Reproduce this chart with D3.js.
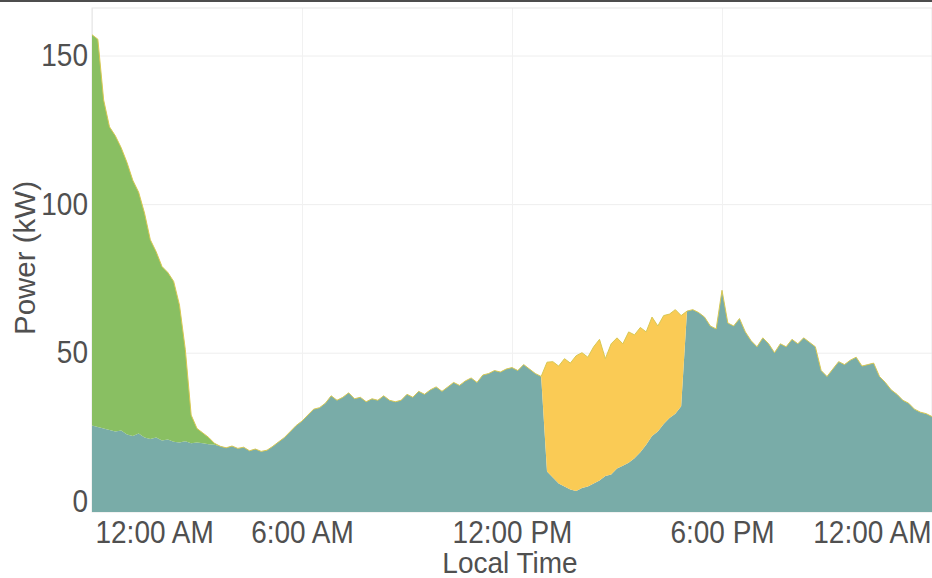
<!DOCTYPE html>
<html>
<head>
<meta charset="utf-8">
<script src="https://cdn.jsdelivr.net/npm/d3@7"></script>
<style>
  body { margin: 0; background: #fff; }
  svg { display: block; font-family: "Liberation Sans", Arial, sans-serif; }
</style>
</head>
<body>
<div id="chart"></div>
<script>
// Messwerte alle 10 Minuten, Start 12:00 AM
const startTime = new Date(2021, 0, 1, 0, 0);
const stepMinutes = 10;

// Grundlast (türkis)
const baseLoad = [
  25.5, 25, 24.5, 24, 23.5, 23.8, 22.5, 22, 22.8, 21.5,
  21, 21.5, 20.5, 20.8, 20, 19.8, 20.2, 19.5, 19.8, 19.5,
  19.2, 19, 18.5, 18, 18.6, 17.8, 18.2, 17, 17.6, 16.8,
  17.2, 18.5, 20, 21.5, 23.5, 25.5, 27, 29, 31, 31.5,
  33, 35.5, 34, 35, 36.5, 34.5, 35, 33.5, 34.5, 34,
  35.5, 34, 33.5, 34, 36, 35, 37, 36, 37.5, 38.5,
  37, 38.5, 40, 39, 40.5, 41.5, 40, 42.5, 43, 44,
  43.5, 44.5, 45, 44, 46, 44.5, 43, 42, 10, 8,
  6, 5, 4, 3.5, 4.5, 5, 6, 7, 8.5, 9,
  11, 12, 13, 14.5, 16.5, 19, 22, 23.5, 26, 28,
  29.5, 32, 64, 64.5, 63.5, 62, 59, 58, 71, 60,
  59, 61.5, 57, 54, 52, 55, 53, 50, 53, 52,
  54.5, 53, 55, 53.5, 52, 44, 42, 44.5, 47, 46,
  47.5, 48.5, 45.5, 46, 46.5, 42, 40, 37.5, 36, 34,
  33, 31, 30, 29.5, 28.5
];

// Zusatzlast früh morgens (grün)
const morningLoad = [
  131.5, 130.5, 110.5, 102, 99.5, 95.2, 91.5, 86, 81.2, 75.5,
  67, 62.5, 58.5, 56.2, 54, 46.2, 30.8, 9.5, 4.7, 3.5,
  2.3, 0.5, 0, 0, 0, 0, 0, 0, 0, 0,
  0, 0, 0, 0, 0, 0, 0, 0, 0, 0,
  0, 0, 0, 0, 0, 0, 0, 0, 0, 0,
  0, 0, 0, 0, 0, 0, 0, 0, 0, 0,
  0, 0, 0, 0, 0, 0, 0, 0, 0, 0,
  0, 0, 0, 0, 0, 0, 0, 0, 0, 0,
  0, 0, 0, 0, 0, 0, 0, 0, 0, 0,
  0, 0, 0, 0, 0, 0, 0, 0, 0, 0,
  0, 0, 0, 0, 0, 0, 0, 0, 0, 0,
  0, 0, 0, 0, 0, 0, 0, 0, 0, 0,
  0, 0, 0, 0, 0, 0, 0, 0, 0, 0,
  0, 0, 0, 0, 0, 0, 0, 0, 0, 0,
  0, 0, 0, 0, 0
];

// Zusatzlast nachmittags (gelb)
const afternoonLoad = [
  0, 0, 0, 0, 0, 0, 0, 0, 0, 0,
  0, 0, 0, 0, 0, 0, 0, 0, 0, 0,
  0, 0, 0, 0, 0, 0, 0, 0, 0, 0,
  0, 0, 0, 0, 0, 0, 0, 0, 0, 0,
  0, 0, 0, 0, 0, 0, 0, 0, 0, 0,
  0, 0, 0, 0, 0, 0, 0, 0, 0, 0,
  0, 0, 0, 0, 0, 0, 0, 0, 0, 0,
  0, 0, 0, 0, 0, 0, 0, 0, 36.8, 39,
  39.5, 43, 42.5, 45.5, 45.5, 43.5, 46, 47.5, 39.5, 44,
  44, 41, 44, 41.5, 42, 38, 40, 35.5, 36.5, 35,
  35, 30.5, 0, 0, 0, 0, 0, 0, 0, 0,
  0, 0, 0, 0, 0, 0, 0, 0, 0, 0,
  0, 0, 0, 0, 0, 0, 0, 0, 0, 0,
  0, 0, 0, 0, 0, 0, 0, 0, 0, 0,
  0, 0, 0, 0, 0
];

const yTicks = [0, 50, 100, 150];

const width = 932, height = 578;
const margin = { top: 8, right: 0, bottom: 66, left: 92 };

const rows = baseLoad.map((v, i) => ({
  time: d3.timeMinute.offset(startTime, i * stepMinutes),
  base: v,
  morning: morningLoad[i],
  afternoon: afternoonLoad[i]
}));

const keys = ["base", "morning", "afternoon"];
const colors = { base: "#79aca8", morning: "#89bf62", afternoon: "#facb55" };

// Text etwas höher ziehen (Referenz wirkt vertikal gestreckt)
function stretchY(sel, k) {
  sel.each(function() {
    const b = this.getBBox();
    const cy = b.y + b.height / 2;
    d3.select(this).attr("transform", `translate(0,${cy}) scale(1,${k}) translate(0,${-cy})`);
  });
}

const svg = d3.select("#chart")
  .append("svg")
  .attr("width", width)
  .attr("height", height);

// dunkle Linie am oberen Rand
svg.append("rect")
  .attr("x", 0).attr("y", 0)
  .attr("width", width).attr("height", 2)
  .attr("fill", "#4d4d4d");

const x = d3.scaleTime()
  .domain([startTime, d3.timeDay.offset(startTime, 1)])
  .range([margin.left, width - margin.right]);

const y = d3.scaleLinear()
  .domain([-3.6, 166])
  .range([height - margin.bottom, margin.top]);

// Gitternetz
svg.append("g")
  .attr("transform", `translate(${margin.left},0)`)
  .call(d3.axisLeft(y).tickValues(yTicks).tickSize(-(width - margin.left - margin.right)).tickFormat(""))
  .call(g => g.select(".domain").remove())
  .call(g => g.selectAll("line").attr("stroke", "#eeeeee"));

svg.append("g")
  .attr("transform", `translate(0,${height - margin.bottom})`)
  .call(d3.axisBottom(x).ticks(d3.timeHour.every(6)).tickSize(-(height - margin.top - margin.bottom)).tickFormat(""))
  .call(g => g.select(".domain").remove())
  .call(g => g.selectAll("line").attr("stroke", "#f1f1f1"));

svg.append("rect")
  .attr("x", margin.left).attr("y", margin.top)
  .attr("width", width - margin.left - margin.right)
  .attr("height", height - margin.top - margin.bottom)
  .attr("fill", "none")
  .attr("stroke", "#e6e6e6");

const stacked = d3.stack().keys(keys)(rows);

svg.append("g")
  .selectAll("path")
  .data(stacked)
  .enter()
  .append("path")
  .attr("d", s => d3.area()
    .x(d => x(d.data.time))
    .y0(d => s.index === 0 ? y.range()[0] : y(d[0]))
    .y1(d => y(d[1]))(s))
  .attr("fill", s => colors[s.key]);

// obere Kante
const topSeries = stacked[stacked.length - 1];
svg.append("path")
  .datum(topSeries)
  .attr("d", d3.line().x(d => x(d.data.time)).y(d => y(d[1])))
  .attr("fill", "none")
  .attr("stroke", "#d8c852")
  .attr("stroke-width", 1);

// Achsenbeschriftung
const tickColor = "#505050";

const yAxisG = svg.append("g")
  .attr("transform", `translate(${margin.left},0)`)
  .call(d3.axisLeft(y).tickValues(yTicks).tickSize(0).tickPadding(4))
  .call(g => g.select(".domain").remove());

yAxisG.selectAll("text")
  .attr("fill", tickColor)
  .style("font-size", "28px");

const fmt = d3.timeFormat("%-I:%M %p");
const xAxisG = svg.append("g")
  .attr("transform", `translate(0,${height - margin.bottom})`)
  .call(d3.axisBottom(x).ticks(d3.timeHour.every(6)).tickFormat(fmt).tickSize(0).tickPadding(10))
  .call(g => g.select(".domain").remove());

xAxisG.selectAll("text")
  .attr("fill", tickColor)
  .style("font-size", "28px");

const xTexts = xAxisG.selectAll(".tick text").nodes();
d3.select(xTexts[0]).attr("text-anchor", "start").attr("dx", 3);
d3.select(xTexts[xTexts.length - 1]).attr("text-anchor", "end").attr("dx", -1);

const xTitle = svg.append("text")
  .attr("x", (margin.left + width - margin.right) / 2 - 2)
  .attr("y", 572)
  .attr("text-anchor", "middle")
  .attr("fill", tickColor)
  .style("font-size", "28px")
  .text("Local Time");

svg.append("text")
  .attr("transform", `translate(35,${(margin.top + height - margin.bottom) / 2 - 2}) rotate(-90)`)
  .attr("text-anchor", "middle")
  .attr("fill", tickColor)
  .style("font-size", "29.5px")
  .text("Power (kW)");

stretchY(yAxisG.selectAll("text"), 1.1);
stretchY(xAxisG.selectAll("text"), 1.1);
stretchY(xTitle, 1.08);
</script>
</body>
</html>
